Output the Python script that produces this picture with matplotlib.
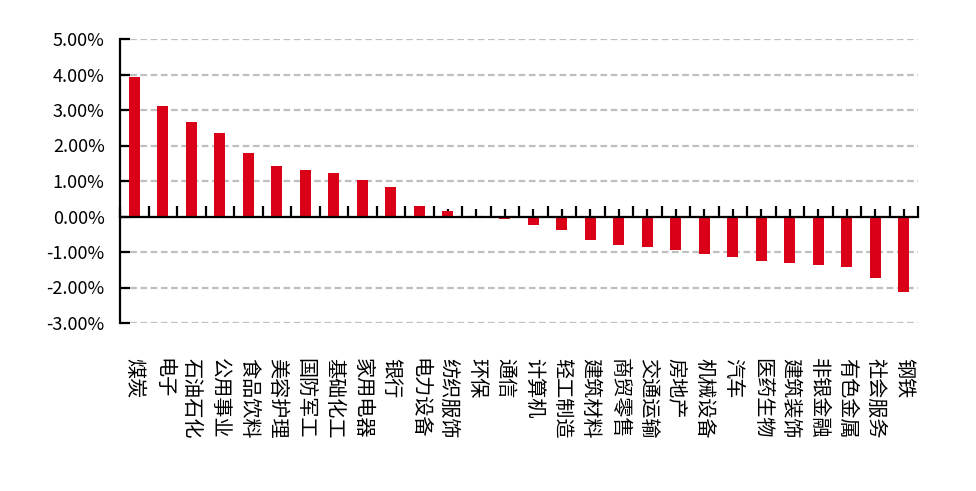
import matplotlib
matplotlib.use('Agg')
import matplotlib.pyplot as plt
from matplotlib.ticker import FuncFormatter
import numpy as np

plt.rcParams['font.family'] = ['Noto Sans CJK SC', 'DejaVu Sans']

industries = ['煤炭', '电子', '石油石化', '公用事业', '食品饮料', '美容护理', '国防军工',
              '基础化工', '家用电器', '银行', '电力设备', '纺织服饰', '环保', '通信',
              '计算机', '轻工制造', '建筑材料', '商贸零售', '交通运输', '房地产', '机械设备',
              '汽车', '医药生物', '建筑装饰', '非银金融', '有色金属', '社会服务', '钢铁']
returns = [3.92, 3.12, 2.67, 2.36, 1.79, 1.43, 1.31,
           1.23, 1.03, 0.84, 0.30, 0.16, 0.01, -0.08,
           -0.25, -0.37, -0.65, -0.79, -0.87, -0.95, -1.06,
           -1.15, -1.24, -1.32, -1.38, -1.41, -1.72, -2.14]
y_ticks = [-3, -2, -1, 0, 1, 2, 3, 4, 5]

x = np.arange(len(industries))

fig = plt.figure(figsize=(9.76, 4.91), dpi=100)
ax = fig.add_axes([120 / 976, 1 - 323 / 491, (918 - 120) / 976, (323 - 39) / 491])

ax.bar(x, returns, width=0.39, color='#DA0017', zorder=3)

ax.set_xlim(-0.5, len(industries) - 0.5)
ax.set_ylim(-3, 5)
ax.set_yticks(y_ticks)
ax.yaxis.set_major_formatter(FuncFormatter(lambda v, p: f'{v:.2f}%'))
ax.grid(axis='y', color='#BFBFBF', linestyle=(0, (3, 1.6)), linewidth=1.6, zorder=0)

for s in ['top', 'right']:
    ax.spines[s].set_visible(False)
ax.spines['left'].set_linewidth(1.6)
ax.spines['bottom'].set_position(('data', 0))
ax.spines['bottom'].set_linewidth(1.6)
ax.spines['bottom'].set_zorder(4)

# ticks on the zero line: boundaries (major) and centres (minor)
ax.set_xticks(np.arange(len(industries) + 1) - 0.5)
ax.set_xticks(x, minor=True)
ax.tick_params(axis='x', which='major', direction='in', length=8, width=1.6,
               labelbottom=False)
ax.tick_params(axis='x', which='minor', direction='in', length=6, width=1.6,
               labelbottom=False)
ax.tick_params(axis='y', direction='in', length=7, width=1.6, pad=11,
               labelsize=13, labelcolor='black')

# category labels at the bottom of the plot area
sec = ax.secondary_xaxis('bottom')
sec.set_xticks(x)
sec.set_xticklabels(industries, rotation=270, fontsize=14.5, va='top', ha='center')
sec.tick_params(length=0, pad=25)
sec.spines['bottom'].set_visible(False)

fig.savefig('out.png', dpi=100)
plt.close(fig)
